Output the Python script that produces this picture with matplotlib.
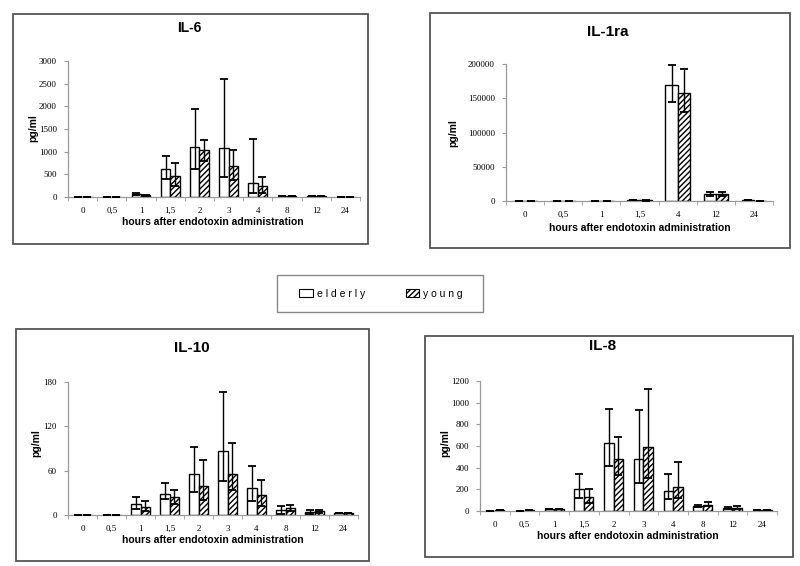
import matplotlib
matplotlib.use("Agg")
import numpy as np
import matplotlib.pyplot as plt
from matplotlib.patches import Rectangle, Patch

W, H = 800, 566

# ---- data ----
hours_10 = ["0", "0,5", "1", "1,5", "2", "3", "4", "8", "12", "24"]
hours_1ra = ["0", "0,5", "1", "1,5", "4", "12", "24"]

il6_elderly = [5, 5, 70, 610, 1110, 1088, 315, 15, 20, 5]
il6_elderly_hi = [5, 5, 90, 911, 1948, 2610, 1280, 15, 20, 5]
il6_elderly_lo = [5, 5, 50, 390, 618, 448, 95, 15, 20, 5]
il6_young = [3, 5, 35, 457, 1030, 684, 250, 15, 15, 5]
il6_young_hi = [3, 5, 45, 743, 1250, 1037, 448, 15, 15, 5]
il6_young_lo = [3, 5, 25, 250, 800, 380, 80, 15, 15, 5]

il1ra_elderly = [300, 300, 500, 1500, 168900, 9800, 1500]
il1ra_elderly_hi = [300, 300, 500, 1800, 198600, 12700, 1500]
il1ra_elderly_lo = [300, 300, 500, 1200, 144500, 7500, 1500]
il1ra_young = [300, 300, 500, 1000, 157700, 9500, 500]
il1ra_young_hi = [300, 300, 500, 1300, 192700, 12700, 500]
il1ra_young_lo = [300, 300, 500, 700, 129500, 7000, 500]

il10_elderly = [0.5, 0.5, 15.5, 28, 55, 87, 36, 6.4, 4, 3]
il10_elderly_hi = [0.5, 0.5, 24, 43, 92.5, 166, 66, 12, 7, 3]
il10_elderly_lo = [0.5, 0.5, 8, 21, 31, 46, 19.6, 2, 2, 3]
il10_young = [0.3, 0.5, 11.4, 24.5, 39.5, 56, 26.4, 10, 5, 3]
il10_young_hi = [0.3, 0.5, 19, 34.5, 75, 97, 48, 13.6, 7, 3]
il10_young_lo = [0.3, 0.5, 5, 15, 20, 34, 12, 6, 3, 3]

il8_elderly = [3, 2, 21, 201, 625, 482, 189, 50, 25, 10]
il8_elderly_hi = [3, 2, 21, 343, 946, 930, 337, 60, 35, 10]
il8_elderly_lo = [3, 2, 21, 118, 414, 254, 108, 40, 18, 10]
il8_young = [5, 5, 15, 130, 479, 590, 226, 60, 30, 10]
il8_young_hi = [5, 5, 15, 201, 683, 1125, 449, 80, 50, 10]
il8_young_lo = [5, 5, 15, 74, 334, 306, 118, 45, 20, 10]

plt.rcParams["hatch.linewidth"] = 1.0
SANS = ["Liberation Sans", "DejaVu Sans"]
SERIF = ["Liberation Serif", "DejaVu Serif"]


def fx(x):
    return x / W


def fy(y):
    return 1 - y / H


def frame_box(fig, x0, y0, x1, y1, color="#555555", lw=1.3):
    fig.add_artist(Rectangle((fx(x0), fy(y1)), fx(x1 - x0), (y1 - y0) / H,
                             transform=fig.transFigure, fill=False,
                             ec=color, lw=lw))


def draw_panel(fig, rect_px, labels, e, e_hi, e_lo, yg, yg_hi, yg_lo, yticks):
    x0, x1, ytop, ybot = rect_px
    ax = fig.add_axes([fx(x0), fy(ybot), fx(x1 - x0), (ybot - ytop) / H])
    n = len(labels)
    x = np.arange(n)
    w = 0.32
    e = np.array(e, float)
    yg = np.array(yg, float)
    ax.bar(x - w / 2, e, w, color="white", edgecolor="black", lw=1.0, zorder=2)
    ax.bar(x + w / 2, yg, w, color="white", edgecolor="black", lw=1.0,
           hatch="//////", zorder=2)
    for xs, m, hi, lo in ((x - w / 2, e, e_hi, e_lo), (x + w / 2, yg, yg_hi, yg_lo)):
        err = np.vstack([m - np.array(lo, float), np.array(hi, float) - m])
        ax.errorbar(xs, m, yerr=err, fmt="none", ecolor="black",
                    elinewidth=1.0, capsize=3.2, capthick=1.3, zorder=3)
    ax.set_xlim(-0.5, n - 0.5)
    ax.set_ylim(0, yticks[-1])
    ax.set_yticks(yticks)
    ax.set_yticklabels([str(t) for t in yticks], family=SERIF, fontsize=6.5)
    ax.set_xticks(x)
    ax.set_xticklabels(labels, family=SERIF, fontsize=6.5)
    ax.set_xticks(np.arange(n + 1) - 0.5, minor=True)
    ax.tick_params(axis="x", which="major", length=0, pad=7)
    ax.tick_params(axis="x", which="minor", length=3, color="#999999")
    ax.tick_params(axis="y", length=3, color="#999999", pad=5)
    for s in ("top", "right"):
        ax.spines[s].set_visible(False)
    for s in ("left", "bottom"):
        ax.spines[s].set_color("#999999")
        ax.spines[s].set_linewidth(0.9)
    return ax


fig = plt.figure(figsize=(8, 5.66), dpi=100)

yt6 = [0, 500, 1000, 1500, 2000, 2500, 3000]
yt1ra = [0, 50000, 100000, 150000, 200000]
yt10 = [0, 60, 120, 180]
yt8 = [0, 200, 400, 600, 800, 1000, 1200]

panels = [
    ("IL-6", (13, 14, 368, 244), (68, 360, 61, 197), hours_10,
     il6_elderly, il6_elderly_hi, il6_elderly_lo, il6_young, il6_young_hi, il6_young_lo,
     yt6, (189, 28, 10), (213, 222), (33, 128)),
    ("IL-1ra", (430, 13, 790, 248), (506, 773, 64, 201), hours_1ra,
     il1ra_elderly, il1ra_elderly_hi, il1ra_elderly_lo, il1ra_young, il1ra_young_hi, il1ra_young_lo,
     yt1ra, (608, 32, 11), (640, 228), (453, 133)),
    ("IL-10", (16, 329, 369, 561), (68, 358, 382, 515), hours_10,
     il10_elderly, il10_elderly_hi, il10_elderly_lo, il10_young, il10_young_hi, il10_young_lo,
     yt10, (192, 348, 11), (213, 540), (36, 443)),
    ("IL-8", (425, 336, 793, 557), (480, 777, 381, 511), hours_10,
     il8_elderly, il8_elderly_hi, il8_elderly_lo, il8_young, il8_young_hi, il8_young_lo,
     yt8, (603, 346, 11), (628, 536), (445, 443)),
]

for (title, box, rect, labels, e, ehi, elo, yg, yhi, ylo, yt, tpos, xlpos, ylpos) in panels:
    frame_box(fig, *box)
    draw_panel(fig, rect, labels, e, ehi, elo, yg, yhi, ylo, yt)
    fig.text(fx(tpos[0]), fy(tpos[1]), title, family=SANS, weight="bold",
             fontsize=tpos[2], ha="center", va="center")
    fig.text(fx(xlpos[0]), fy(xlpos[1]), "hours after endotoxin administration",
             family=SANS, weight="bold", fontsize=7.5, ha="center", va="center")
    fig.text(fx(ylpos[0]), fy(ylpos[1]), "pg/ml", family=SANS, weight="bold",
             fontsize=7.5, ha="center", va="center", rotation=90)

# legend: frame drawn separately, entries centred inside
frame_box(fig, 277, 275, 483, 312, color="#888888", lw=1.0)
handles = [Patch(facecolor="white", edgecolor="black", lw=0.8),
           Patch(facecolor="white", edgecolor="black", lw=0.8, hatch="//////")]
leg = fig.legend(handles, ["e l d e r l y", "y o u n g"], ncol=2,
                 loc="center", bbox_to_anchor=(fx(381), fy(294)),
                 prop={"family": SANS, "size": 7.5}, frameon=False,
                 handlelength=1.3, handleheight=0.8,
                 handletextpad=0.4, columnspacing=3.9, borderaxespad=0)

fig.savefig("out.png", dpi=100)
